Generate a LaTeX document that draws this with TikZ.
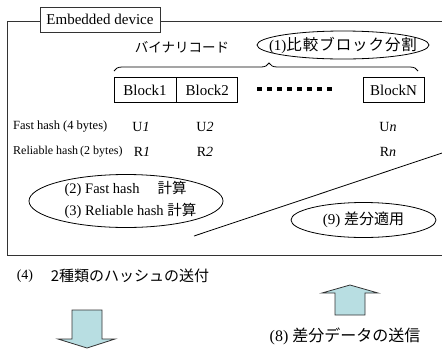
\documentclass[tikz,border=0pt]{standalone}
\usepackage{fontspec}
\setmainfont{Liberation Serif}
\newfontfamily\jp{Noto Sans CJK JP}
\newfontfamily\jpw[LetterSpace=6]{Noto Sans CJK JP}
\usetikzlibrary{shapes.geometric,decorations.pathreplacing}
\definecolor{arrowfill}{HTML}{B8DEE2}
\definecolor{edge}{HTML}{333333}
\newcommand\fs[1]{\fontsize{#1}{#1}\selectfont}
\begin{document}
\begin{tikzpicture}[x=1pt,y=-1pt,
  frame/.style={draw=edge, line width=0.9pt},
  lbl/.style={inner sep=0pt},
  blockbox/.style={draw=black, line width=0.8pt, minimum height=25pt, inner sep=0pt, font=\fs{15}},
  oval/.style={draw=black, ellipse, line width=0.8pt, inner sep=0pt},
  fatarrow/.style={draw=edge, fill=arrowfill, line width=0.8pt},
  dotsq/.style={fill=black, minimum size=4.5pt, inner sep=0pt}]
\useasboundingbox (0,0) rectangle (442,349);

% frame
\coordinate (ftr) at (442,21);
\coordinate (ftl) at (7.5,21);
\coordinate (fbl) at (7.5,255);
\coordinate (fbr) at (442,255);
\draw[frame] (ftr) -- (ftl) -- (fbl) -- (fbr);
\node[draw=edge, fill=white, line width=0.8pt, minimum width=120pt, minimum height=25pt, inner sep=0pt, font=\fs{15}] (dev) at (100,19.5) {Embedded device};

% binary code
\node[lbl, font=\jp\fs{13.5}] (bin) at (182,47) {バイナリコード};
\node[oval, minimum width=172pt, minimum height=28pt] (e1) at (343,45) {};
\node[lbl, font=\fs{15}] (t1) at (e1.center) {(1){\jpw\fs{15.5}比較ブロック分割}};

% brace
\coordinate (brL) at (114,71);
\coordinate (brR) at (418,71);
\draw[line width=0.8pt, decorate, decoration={brace, amplitude=8pt, aspect=0.51}] (brL) -- (brR);

% blocks
\node[blockbox, minimum width=62pt] (b1) at (145,90) {Block1};
\node[blockbox, minimum width=61pt, anchor=west] (b2) at (b1.east) {Block2};
\node[blockbox, minimum width=61pt] (bn) at (393.5,90) {BlockN};
\foreach \i in {0,...,7} {\node[dotsq] (d\i) at (259.5+10*\i,89) {};}

% hash rows
\node[lbl, anchor=west, font=\fs{12.5}] (fh) at (13,127) {Fast hash (4 bytes)\,\,};
\node[lbl, anchor=west, font=\fs{12}] (rh) at (13,152) {Reliable hash\,(2 bytes)};
\node[lbl, font=\fs{14}] (u1) at (141,127) {U\textit{1}};
\node[lbl, font=\fs{14}] (u2) at (205,127) {U\textit{2}};
\node[lbl, font=\fs{14}] (un) at (388,127) {U\textit{n}};
\node[lbl, font=\fs{14}] (r1) at (142,152) {R\textit{1}};
\node[lbl, font=\fs{14}] (r2) at (205,152) {R\textit{2}};
\node[lbl, font=\fs{14}] (rn) at (388,152) {R\textit{n}};

% ellipse 2/3
\node[oval, minimum width=194pt, minimum height=53pt] (e23) at (126,201) {};
\node[lbl, align=left, font=\fs{14.5}] (t23) at (130.5,200) {(2) Fast hash\ {\jp 　計算}\\[5pt](3) Reliable hash {\jp 計算}};

% diagonal
\coordinate (dl1) at (194,236);
\coordinate (dl2) at (442,153);
\draw[line width=0.8pt] (dl1) -- (dl2);

% ellipse 9
\node[oval, minimum width=145pt, minimum height=35pt] (e9) at (363.5,220) {};
\node[lbl, font=\fs{15}] (t9) at (e9.center) {(9) {\jp 差分適用}};

% bottom texts
\node[lbl, font=\fs{14}] (n4) at (25,276) {(4)};
\node[lbl, font=\jp\fs{15}] (t4) at (130,276) {2種類のハッシュの送付};
\node[lbl, font=\fs{16}] (t8) at (345,336) {(8) {\jp 差分データの送信}};

% arrows
\draw[fatarrow] (350,285) -- (378,293) -- (365,293) -- (365,315) -- (335,315) -- (335,293) -- (322,293) -- cycle;
\draw[fatarrow] (87,348) -- (115,339) -- (102,339) -- (102,310) -- (72,310) -- (72,339) -- (58,339) -- cycle;
\end{tikzpicture}
\end{document}
